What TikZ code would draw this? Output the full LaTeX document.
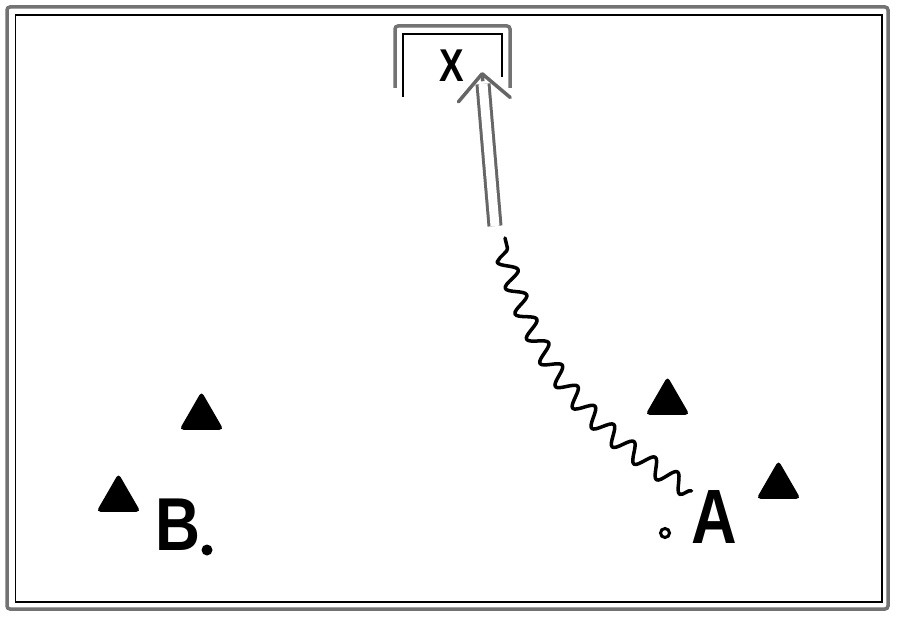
\documentclass[tikz,border=0pt]{standalone}
\usepackage{fontspec}
\setsansfont{Liberation Sans}
\usetikzlibrary{shapes.geometric,arrows.meta,decorations.pathmorphing,calc}

\begin{document}
\begin{tikzpicture}[x=1pt,y=-1pt]

        \fill[white] (0,0) rectangle (900,620);
        \draw[black!55,line width=3.5pt,rounded corners=3pt] (7,7) rectangle (888,609);
        \draw[line width=1.8pt] (15.5,15) rectangle (882,602);

        \draw[black!55,line width=3.5pt,rounded corners=3pt] (395,88) -- (395,26) -- (510,26) -- (510,88);
        \draw[line width=1.8pt] (403,97) -- (403,34) -- (502,34) -- (502,77);

        \begin{scope}[every node/.style={regular polygon,regular polygon sides=3,fill=black,minimum size=51pt,inner sep=0pt,rounded corners=4pt}]
          \node (c1) at (201.5,417) {};
          \node (c2) at (118.5,499) {};
          \node (c3) at (667.5,402) {};
          \node (c4) at (778.5,486) {};
        \end{scope}

        \begin{scope}[every node/.style={font=\sffamily\bfseries,inner sep=0pt}]
          \node (X) at (451.5,65.5) {\fontsize{46}{46}\selectfont\scalebox{0.8}[1]{X}};
          \node (B) at (177.5,525) {\fontsize{75}{75}\selectfont\scalebox{0.83}[1]{B}};
          \node (A) at (714.5,517.5) {\fontsize{77}{77}\selectfont\scalebox{0.82}[1]{A}};
        \end{scope}

        \node[circle,fill=black,minimum size=11pt,inner sep=0pt] (Bdot) at (207,550) {};
        \node[circle,draw=black,line width=3pt,minimum size=9pt,inner sep=0pt] (Adot) at (665,533) {};

        \coordinate (s) at (505,238);
        \coordinate (r) at (495,226);
        \coordinate (t) at (482,72);

        \draw[line width=3.5pt,line join=round,line cap=round,decorate,decoration={snake,segment length=27pt,amplitude=9pt}] (A.north west) to[bend left=23] (s);
        \draw[black!60,line width=3pt,double=white,double distance=9pt,shorten >=12pt] (r) -- (t);
        \draw[black!60,line width=3.5pt,-{Straight Barb[length=26pt,width=52pt,round]}] ($(r)!0.94!(t)$) -- (t);

      \end{tikzpicture}
\end{document}
